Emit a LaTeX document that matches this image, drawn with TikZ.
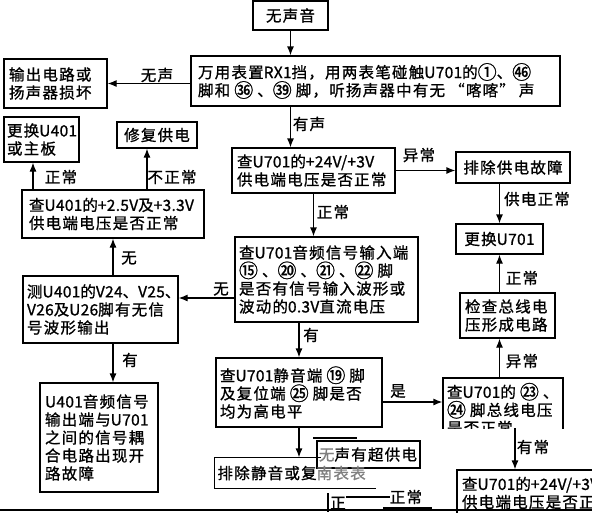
\documentclass[tikz,border=0pt]{standalone}
\usepackage{fontspec}
\setmainfont{Noto Sans CJK SC}[LetterSpace=8, FakeBold=1]
\newfontfamily\latfont{Noto Sans CJK SC}[LetterSpace=2, FakeBold=1]
\usetikzlibrary{arrows.meta}
\newcommand\mysz{\fontsize{15.5pt}{18pt}\selectfont}
\newcommand\cn[1]{{\fontsize{19pt}{18pt}\selectfont\raisebox{-0.06em}{#1}}}
\newcommand\lt[1]{{\latfont #1}}
\newcommand\gp{\hspace{4pt}}
\begin{document}
\begin{tikzpicture}[x=1pt,y=-1pt,
  box/.style={draw, line width=1.2pt, inner sep=0pt, align=left, font=\mysz},
  cbox/.style={box, align=center},
  arr/.style={line width=1.2pt, -{Latex[length=9pt,width=7pt]}},
  lab/.style={font=\mysz, inner sep=0pt},
  frag/.style={line width=1.2pt}]
\clip (0,0) rectangle (592,512);
\fill[white] (0,0) rectangle (592,512);
% nodes
\node[cbox, minimum width=75pt, minimum height=29pt] (b1) at (290.5,15.5) {无声音};
\node[box, minimum width=369pt, minimum height=50pt, text width=355pt] (bm) at (375.5,81)
  {万用表置\lt{RX1}挡，用两表笔碰触\lt{U701}的\cn{①}、\cn{㊻}\\脚和\gp{}\cn{㊱}\gp{}、\cn{㊴}\gp{}脚，听扬声器中有无\gp{}“喀喀”\gp{}声};
\node[box, minimum width=103pt, minimum height=49pt, text width=93pt] (b3) at (55.5,83.5)
  {输出电路或\\扬声器损坏};
\node[box, minimum width=75pt, minimum height=45pt, text width=69pt] (b4) at (41.5,139.5)
  {更换\lt{U401}\\或主板};
\node[cbox, minimum width=80pt, minimum height=26pt] (b5) at (157,135) {修复供电};
\node[box, minimum width=182pt, minimum height=48pt, text width=168pt] (b6) at (113,214)
  {查\lt{U401}的\lt{+2.5V}及\lt{+3.3V}\\供电端电压是否正常};
\node[box, minimum width=163pt, minimum height=45pt, text width=153pt] (b7) at (313.5,170.5)
  {查\lt{U701}的\lt{+24V/+3V}\\供电端电压是否正常};
\node[cbox, minimum width=114pt, minimum height=31pt] (b8) at (513,167.5) {排除供电故障};
\node[cbox, minimum width=87pt, minimum height=30pt] (b9) at (499.5,239) {更换\lt{U701}};
\node[box, minimum width=95pt, minimum height=45pt, text width=85pt] (b10) at (507.5,315.5)
  {检查总线电\\压形成电路};
\begin{scope}
\clip (430,370) rectangle (580,428);
\node[box, minimum width=120pt, minimum height=62pt, text width=112pt] (b11) at (503,409)
  {查\lt{U701}的\gp{}\cn{㉓}\gp{}、\\\cn{㉔}\gp{}脚总线电压\\是否正常};
\end{scope}
\coordinate (c11) at (515,428);
\node[box, minimum width=183pt, minimum height=85pt, text width=175pt] (b12) at (326.5,279.5)
  {查\lt{U701}音频信号输入端\\\cn{⑮}\gp{}、\cn{⑳}\gp{}、\cn{㉑}\gp{}、\cn{㉒}\gp{}脚\\是否有信号输入波形或\\波动的\lt{0.3V}直流电压};
\node[box, minimum width=163pt, minimum height=46pt, text width=153pt] (b13) at (538.5,493)
  {查\lt{U701}的\lt{+24V/+3V}\\供电端电压是否正常};
\node[box, minimum width=155pt, minimum height=67pt, text width=147pt] (b14) at (100.5,309.5)
  {测\lt{U401}的\lt{V24}、\lt{V25}、\\\lt{V26}及\lt{U26}脚有无信\\号波形输出};
\node[box, minimum width=118pt, minimum height=109pt, text width=108pt] (b15) at (99,437.5)
  {\lt{U401}音频信号\\输出端与\lt{U701}\\之间的信号耦\\合电路出现开\\路故障};
\node[box, minimum width=166pt, minimum height=69pt, text width=158pt] (b16) at (299,392.5)
  {查\lt{U701}静音端\gp{}\cn{⑲}\gp{}脚\\及复位端\gp{}\cn{㉕}\gp{}脚是否\\均为高电平};
% garbled overlay region
\node[box, minimum width=103pt, minimum height=27pt, text width=99pt] (ov) at (368.5,454.5)
  {{\color{gray}无}声有超供电};
\node[box, draw=none, minimum width=157pt, minimum height=30pt, text width=152pt] (b17) at (293.5,473)
  {排除静音或复{\color{gray}南表表}};
\draw[frag] (b17.north east) ++(-52,0) -| (b17.south west) -- ++(162,0);
\draw[frag] (313,438) -- (357,438);
\draw[frag] (328,493) -- (328,512);
\node[lab] (f1) at (338,503) {正};
\node[lab] (f2) at (406,497) {正常};
\draw[frag] (f1.east |- f2.west) -- (f2.west);
\draw[frag] (383,508) -- (432,508);
\draw[line width=2pt] (0,510) -- (592,510);
% connectors
\draw[arr] (b1.south) -- (b1.south |- bm.north);
\draw[arr] (bm.west |- b3.east) -- (b3.east);
\node[lab] (l1) at (157,75) {无声};
\draw[arr] (b1.south |- bm.south) -- (b1.south |- b7.north);
\node[lab] (l2) at (309,124) {有声};
\draw[arr] (b7.east) -- (b7.east -| b8.west);
\node[lab] (l3) at (419,155) {异常};
\draw[arr] (b9.north |- b8.south) -- (b9.north);
\node[lab] (l4) at (537,199) {供电正常};
\draw[arr] (b9.south |- b10.north) -- (b9.south);
\node[lab] (l5) at (522,278) {正常};
\draw[arr] (b9.south |- b11.north) -- (b9.south |- b10.south);
\node[lab] (l6) at (522,361) {异常};
\draw[arr] ([yshift=-9.5pt]b16.east) -- ([yshift=-9.5pt]b16.east -| b11.west);
\node[lab] (l7) at (398,391) {是};
\draw[arr] (c11) -- (c11 |- b13.north);
\node[lab] (l8) at (533,447) {有常};
\draw[arr] (b7.south) -- (b7.south |- b12.north);
\node[lab] (l9) at (333,212) {正常};
\draw[arr] ([yshift=-18.5pt]b12.west) -- ([yshift=-18.5pt]b12.west -| b14.east);
\node[lab] (l10) at (221,289) {无};
\draw[arr] (b6.south |- b14.north) -- (b6.south);
\node[lab] (l11) at (129,258) {无};
\draw[arr] ([xshift=-8.5pt]b4.south |- b6.north) -- ([xshift=-8.5pt]b4.south);
\node[lab] (l12) at (61,177) {正常};
\draw[arr] ([xshift=-10pt]b5.south |- b6.north) -- ([xshift=-10pt]b5.south);
\node[lab] (l13) at (172,177) {不正常};
\draw[arr] (b6.south |- b14.south) -- (b6.south |- b15.north);
\node[lab] (l14) at (130,360) {有};
\draw[arr] (b16.north |- b12.south) -- (b16.north);
\node[lab] (l15) at (311,335) {有};
\draw[arr] (b16.south) -- (b16.south |- b17.north);
\end{tikzpicture}
\end{document}
